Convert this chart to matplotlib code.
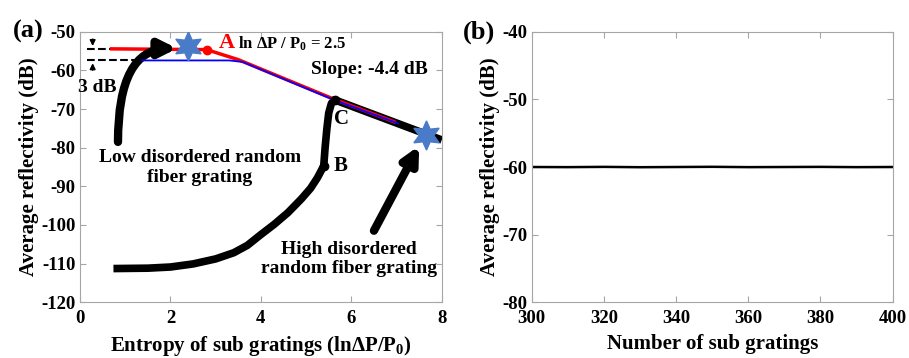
import matplotlib
matplotlib.use("Agg")
import matplotlib.pyplot as plt

plt.rcParams['font.family'] = ['Liberation Serif', 'DejaVu Serif']
plt.rcParams['font.weight'] = 'bold'
plt.rcParams['axes.unicode_minus'] = False
plt.rcParams['mathtext.fontset'] = 'custom'
plt.rcParams['mathtext.rm'] = 'Liberation Serif:bold'
plt.rcParams['mathtext.it'] = 'Liberation Serif:bold'
plt.rcParams['mathtext.bf'] = 'Liberation Serif:bold'

# --- panel (a) data ---
red_x = [0.7, 2.8, 3.5, 5.63, 6.95]
red_y = [-54.4, -54.6, -57.2, -67.5, -73.3]
blue_x = [1.38, 3.3, 3.6, 5.63, 7.03]
blue_y = [-57.4, -57.4, -57.8, -67.7, -73.7]
black_x = [0.74, 1.5, 2.0, 2.5, 3.0, 3.4, 3.7, 4.0, 4.3, 4.6, 4.9, 5.1, 5.25,
           5.39, 5.42, 5.46, 5.5, 5.56, 5.63, 8.0]
black_y = [-111.3, -111.2, -110.9, -110.1, -108.8, -107.2, -105.3, -102.5, -99.8,
           -96.8, -93.2, -90.5, -87.8, -84.7, -80.0, -75.0, -71.0, -68.5, -67.6, -78.0]
point_a = (2.8, -54.6)
point_b = (5.39, -84.7)
point_c = (5.63, -67.6)
stars_x = [2.38, 7.65]
stars_y = [-53.6, -76.7]

# --- panel (b) data ---
n_sub = [300, 310, 320, 330, 340, 350, 360, 370, 380, 390, 400]
refl_b = [-60.0, -60.02, -59.98, -60.03, -60.0, -59.97, -60.02, -60.0, -59.98, -60.02, -60.0]

spine_col = '#a6a6a6'

fig = plt.figure(figsize=(9.09, 3.58), dpi=100)
ax1 = fig.add_axes([0.088, 0.156, 0.398, 0.755])
ax2 = fig.add_axes([0.585, 0.156, 0.397, 0.755])

for ax in (ax1, ax2):
    for s in ax.spines.values():
        s.set_color(spine_col)
        s.set_linewidth(0.8)
    ax.tick_params(direction='in', top=True, right=True, color=spine_col,
                   labelsize=13.5, length=4, pad=3)
    ax.tick_params(axis='x', pad=6)

# panel (a)
ax1.plot(black_x, black_y, color='black', lw=5.5, solid_capstyle='butt',
         solid_joinstyle='round', zorder=2)
ax1.plot(red_x, red_y, color='red', lw=2.5, zorder=3)
ax1.plot(blue_x, blue_y, color='blue', lw=1.3, zorder=4)
ax1.plot(*point_a, 'o', color='red', ms=6, zorder=5)
ax1.plot(*point_b, 'o', color='black', ms=6, zorder=5)
ax1.plot(*point_c, 'o', color='black', ms=6, zorder=5)
ax1.plot(stars_x, stars_y, linestyle='none', marker=(6, 1, 0), color='#4a7bc8',
         ms=21, zorder=6)

# 3 dB markers
ax1.plot([0.15, 0.7], [-54.4, -54.4], 'k--', lw=1.5)
ax1.plot([0.15, 1.35], [-57.4, -57.4], 'k--', lw=1.5)
ax1.annotate('', xy=(0.28, -54.4), xytext=(0.28, -51.2),
             arrowprops=dict(arrowstyle='-|>', color='k', lw=1.2, mutation_scale=8))
ax1.annotate('', xy=(0.28, -57.4), xytext=(0.28, -60.6),
             arrowprops=dict(arrowstyle='-|>', color='k', lw=1.2, mutation_scale=8))

# big arrows
ax1.annotate('', xy=(2.15, -54.3), xytext=(0.84, -78.5),
             arrowprops=dict(arrowstyle='-|>', color='k', lw=6, mutation_scale=24,
                             connectionstyle='angle3,angleA=90,angleB=0',
                             shrinkA=0, shrinkB=0))
ax1.annotate('', xy=(7.5, -79.5), xytext=(6.5, -101.5),
             arrowprops=dict(arrowstyle='-|>', color='k', lw=6, mutation_scale=24,
                             shrinkA=0, shrinkB=0))

# text
ax1.text(3.24, -53.0, 'A', color='red', fontsize=16, fontweight='bold',
         ha='center', va='center')
ax1.text(3.5, -53.0, r'ln $\Delta$P / P$_0$ = 2.5', fontsize=12, fontweight='bold',
         ha='left', va='center')
ax1.text(5.1, -59.8, 'Slope: -4.4 dB', fontsize=14, fontweight='bold',
         ha='left', va='center')
ax1.text(-0.05, -64.5, '3 dB', fontsize=14, fontweight='bold', ha='left', va='center')
ax1.text(5.78, -72.5, 'C', fontsize=15, fontweight='bold', ha='center', va='center')
ax1.text(5.76, -84.7, 'B', fontsize=15, fontweight='bold', ha='center', va='center')
ax1.text(2.65, -85.2, 'Low disordered random\nfiber grating', fontsize=14,
         fontweight='bold', ha='center', va='center', linespacing=1.2)
ax1.text(5.95, -108.8, 'High disordered\nrandom fiber grating', fontsize=14,
         fontweight='bold', ha='center', va='center', linespacing=1.2)

ax1.set_xlim(0, 8)
ax1.set_ylim(-120, -50)
ax1.set_xticks([0, 2, 4, 6, 8])
ax1.set_yticks([-120, -110, -100, -90, -80, -70, -60, -50])
ax1.set_xlabel(r'Entropy of sub gratings (ln$\Delta$P/P$_0$)', fontsize=15,
               fontweight='bold', labelpad=5)
ax1.set_ylabel('Average reflectivity (dB)', fontsize=15, fontweight='bold', labelpad=2)
ax1.text(-0.185, 1.0, '(a)', transform=ax1.transAxes, fontsize=19, fontweight='bold',
         ha='left', va='center')

# panel (b)
ax2.plot(n_sub, refl_b, color='black', lw=1.8)
ax2.set_xlim(300, 400)
ax2.set_ylim(-80, -40)
ax2.set_xticks([300, 320, 340, 360, 380, 400])
ax2.set_yticks([-80, -70, -60, -50, -40])
ax2.set_xlabel('Number of sub gratings', fontsize=15, fontweight='bold', labelpad=5)
ax2.set_ylabel('Average reflectivity (dB)', fontsize=15, fontweight='bold', labelpad=2)
ax2.text(-0.19, 1.0, '(b)', transform=ax2.transAxes, fontsize=19, fontweight='bold',
         ha='left', va='center')

for ax in (ax1, ax2):
    for lab in ax.get_xticklabels() + ax.get_yticklabels():
        lab.set_fontweight('bold')

fig.savefig('out.png', dpi=100)
